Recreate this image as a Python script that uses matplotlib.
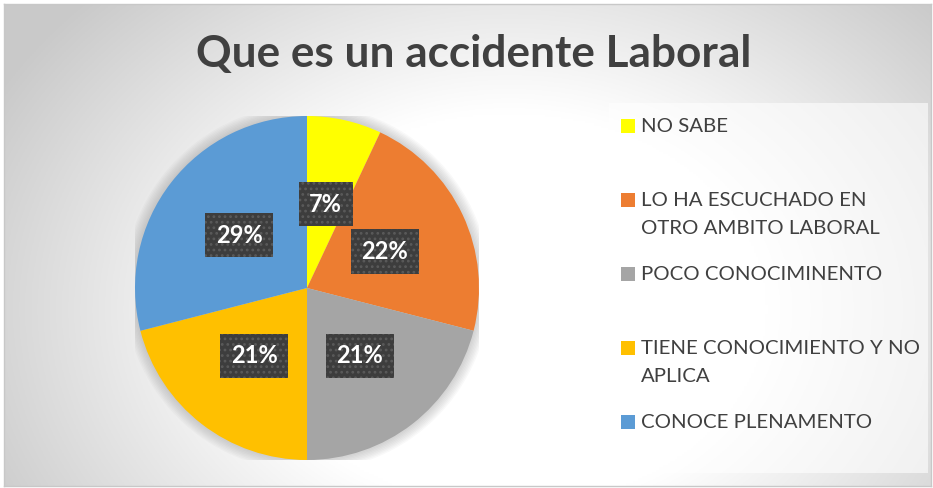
import numpy as np
import matplotlib
matplotlib.use("Agg")
from matplotlib import pyplot as plt
from matplotlib.patches import Rectangle, Circle

# 전역 설정
plt.rcParams["font.family"] = ["Lato", "DejaVu Sans"]
plt.rcParams["hatch.linewidth"] = 1.2

# 데이터
categorias = ["NO SABE", "LO HA ESCUCHADO EN\nOTRO AMBITO LABORAL", "POCO CONOCIMINENTO",
              "TIENE CONOCIMIENTO Y NO\nAPLICA", "CONOCE PLENAMENTO"]
porcentajes = [7, 22, 21, 21, 29]
colores = ["#FFFF00", "#ED7D31", "#A5A5A5", "#FFC000", "#5B9BD5"]

W, H = 933, 488
fig = plt.figure(figsize=(W / 100, H / 100), dpi=100)
fig.patch.set_facecolor("white")


def fx(px):
    return px / W


def fy(py):
    return 1 - py / H


# 배경 그라데이션
bg = fig.add_axes([fx(4), fy(486), fx(927), 482 / H])
xx, yy = np.meshgrid(np.linspace(4, 931, 400), np.linspace(4, 486, 220))
d = np.sqrt(((xx - 510) / 470) ** 2 + ((yy - 310) / 360) ** 2)
t = np.clip((d - 0.55) / 0.7, 0, 1)
g = 1 - t * (1 - 0.79)
bg.imshow(np.dstack([g, g, g]), extent=(0, 1, 0, 1), aspect="auto", origin="upper")
bg.set_xticks([])
bg.set_yticks([])
for s in bg.spines.values():
    s.set_color("#c8c8c8")
    s.set_linewidth(1)

# 제목
fig.text(fx(474), fy(54), "Que es un accidente Laboral", ha="center", va="center",
         fontsize=31.8, fontweight="bold", color="#404040")

# 파이그래프
cx, cy, r = 307, 288, 172
ax = fig.add_axes([fx(cx - r), fy(cy + r), fx(2 * r), 2 * r / H])
for k in range(8):
    ax.add_patch(Circle((0, 0), 1 + 0.008 * (k + 1), color="#8a8a8a",
                        alpha=0.05, lw=0, zorder=0))
wedges, texts, autotexts = ax.pie(
    porcentajes, colors=colores, startangle=90, counterclock=False,
    autopct="%d%%", pctdistance=0.5, radius=1,
    wedgeprops=dict(linewidth=0),
    textprops=dict(color="white", fontsize=17, fontweight="bold"))
for at in autotexts:
    at.set_bbox(dict(boxstyle="square,pad=0.45", facecolor="#3d3d3d",
                     edgecolor="#5a5a5a", linewidth=0, hatch="..."))
ax.set_xlim(-1, 1)
ax.set_ylim(-1, 1)
ax.axis("off")

# 범례
lx0, ly0, lx1, ly1 = 609, 103, 928, 473
fig.patches.append(Rectangle((fx(lx0), fy(ly1)), fx(lx1 - lx0), (ly1 - ly0) / H,
                             transform=fig.transFigure, facecolor="white",
                             alpha=0.6, edgecolor="none", zorder=1))
slot = (ly1 - ly0) / len(categorias)
for i, (cat, col) in enumerate(zip(categorias, colores)):
    yc = ly0 + i * slot + 23
    fig.patches.append(Rectangle((fx(621), fy(yc + 7)), fx(14), 14 / H,
                                 transform=fig.transFigure, facecolor=col,
                                 edgecolor="none", zorder=2))
    fig.text(fx(641), fy(yc - 7.5), cat, ha="left", va="top", fontsize=14.7,
             color="#404040", linespacing=1.75, zorder=3)

fig.savefig("out.png", dpi=100)
plt.close()
